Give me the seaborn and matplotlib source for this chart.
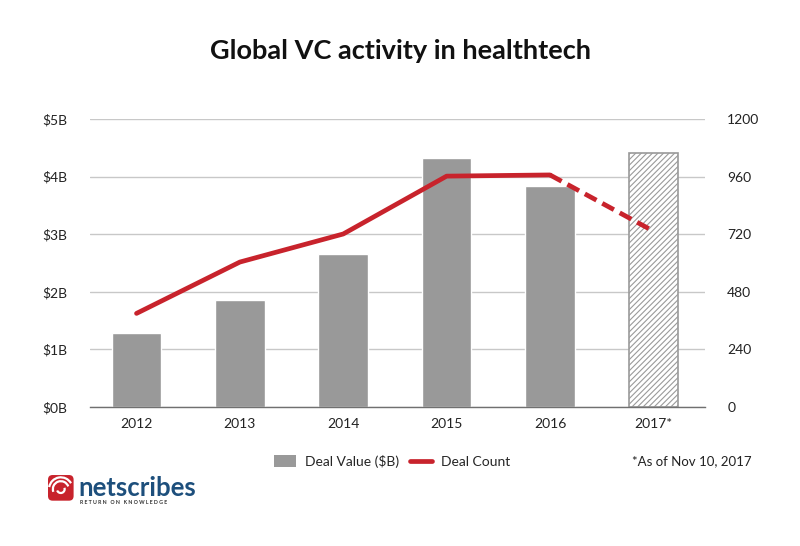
import matplotlib
matplotlib.use("Agg")
import matplotlib.pyplot as plt
from matplotlib.patches import FancyBboxPatch, Arc
from matplotlib.lines import Line2D
from matplotlib.patches import Patch
import seaborn as sns
import pandas as pd

# ── Datos ────────────────────────────────────────
years = ['2012', '2013', '2014', '2015', '2016', '2017*']
deal_value = [1.28, 1.86, 2.66, 4.32, 3.84, 4.41]
deal_count = [390, 604, 721, 962, 967, 733]

left_ticks = [0, 1, 2, 3, 4, 5]
left_labels = ['$0B', '$1B', '$2B', '$3B', '$4B', '$5B']
right_ticks = [0, 240, 480, 720, 960, 1200]

RED = '#C8232C'
GRAY = '#999999'

sns.set_style('white')
plt.rcParams['font.family'] = ['Lato', 'DejaVu Sans']
plt.rcParams['hatch.color'] = '#a0a0a0'
plt.rcParams['hatch.linewidth'] = 0.8

df = pd.DataFrame({'year': years, 'value': deal_value})

fig = plt.figure(figsize=(8, 5.46), dpi=100)
ax = fig.add_axes([0.1125, 0.2546, 0.7688, 0.5274])

sns.barplot(data=df, x='year', y='value', color=GRAY, width=0.48,
            saturation=1, ax=ax)

# barra 2017 rayada
last = ax.patches[-1]
last.set_facecolor('white')
last.set_edgecolor('#9a9a9a')
last.set_hatch('//////')
last.set_linewidth(1.2)

ax.set_ylim(0, 5)
ax.set_xlim(-0.45, 5.5)
ax.set_yticks(left_ticks)
ax.set_yticklabels(left_labels)
ax.set_xlabel('')
ax.set_ylabel('')
ax.grid(axis='y', color='#c8c8c8', linewidth=1)
ax.set_axisbelow(True)
for s in ['top', 'right', 'left']:
    ax.spines[s].set_visible(False)
ax.spines['bottom'].set_color('#707070')
ax.spines['bottom'].set_linewidth(1)
ax.tick_params(axis='both', length=0, labelsize=10, colors='#222222', pad=8)
ax.tick_params(axis='y', pad=16)

ax2 = ax.twinx()
x = list(range(len(years)))
ax2.plot(x[:5], deal_count[:5], color=RED, linewidth=3.4,
         solid_capstyle='round', solid_joinstyle='round')
ax2.plot(x[4:], deal_count[4:], color=RED, linewidth=3.4,
         linestyle=(0, (2.8, 1.4)), dash_capstyle='butt')
ax2.set_ylim(0, 1200)
ax2.set_yticks(right_ticks)
ax2.tick_params(axis='y', length=0, labelsize=10, colors='#222222', pad=16)
for s in ['top', 'right', 'left', 'bottom']:
    ax2.spines[s].set_visible(False)

fig.text(0.5, 0.907, 'Global VC activity in healthtech', ha='center',
         va='center', fontsize=19.5, fontweight='bold', color='#111111')

# leyenda
handles = [Patch(facecolor=GRAY, edgecolor='none'),
           Line2D([0], [0], color=RED, linewidth=3.4)]
fig.legend(handles, ['Deal Value ($B)', 'Deal Count'], loc='center',
           bbox_to_anchor=(0.49, 0.155), ncol=2, frameon=False, fontsize=10,
           handlelength=1.6, handleheight=0.9, columnspacing=0.8,
           handletextpad=0.6)
fig.text(0.94, 0.155, '*As of Nov 10, 2017', ha='right', va='center',
         fontsize=9.5, color='#222222')

# logo
lax = fig.add_axes([0.06, 0.083, 0.032, 0.047])
lax.set_xlim(0, 1)
lax.set_ylim(0, 1)
lax.axis('off')
lax.add_patch(FancyBboxPatch((0, 0), 1, 1,
                             boxstyle='round,pad=0,rounding_size=0.18',
                             facecolor=RED, edgecolor='none'))
lax.add_patch(Arc((0.5, 0.45), 0.62, 0.62, theta1=20, theta2=200,
                  color='white', linewidth=1.6))
lax.add_patch(Arc((0.5, 0.45), 0.3, 0.3, theta1=200, theta2=20,
                  color='white', linewidth=1.6))
lax.add_patch(Arc((0.5, 0.45), 0.92, 0.92, theta1=30, theta2=170,
                  color='white', linewidth=1.6))
fig.text(0.098, 0.107, 'netscribes', ha='left', va='center', fontsize=18.5,
         fontweight='bold', color='#1d4f7c')
fig.text(0.1, 0.079, 'R E T U R N   O N   K N O W L E D G E', ha='left',
         va='center', fontsize=3.8, color='#333333', fontweight='bold')

plt.savefig('out.png', dpi=100)
